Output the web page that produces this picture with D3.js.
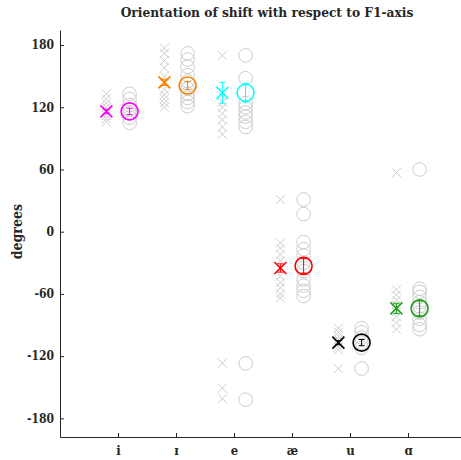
<!DOCTYPE html>
<html>
<head>
<meta charset="utf-8">
<script src="https://cdn.jsdelivr.net/npm/d3@7"></script>
<style>
  html, body { margin: 0; padding: 0; background: #fff; }
  svg text { font-family: "DejaVu Serif Condensed", "DejaVu Serif", serif; font-stretch: condensed; font-weight: bold; fill: #262626; }
</style>
</head>
<body>
<svg id="chart" width="461" height="460"></svg>
<script>
// Vowel categories and their colours
const categories = ["i", "ɪ", "e", "æ", "u", "ɑ"];
const colors = ["#ff00ff", "#ff8000", "#00ffff", "#ff0000", "#000000", "#1f9e1f"];

// Individual shift orientations (degrees), cross series
const crossVals = [
  [133, 128, 124, 120, 117, 115, 112, 109, 106],
  [177, 172, 165, 158, 150, 143, 137, 132, 128, 124, 120],
  [170, 131, 125, 120, 114, 108, 101, 94, -127, -151, -161],
  [31, -11, -16, -22, -28, -36, -43, -49, -54, -60, -64],
  [-93, -97, -101, -104, -108, -111, -114, -132],
  [57, -56, -61, -66, -71, -77, -82, -88, -94]
];
// Individual shift orientations (degrees), circle series
const circleVals = [
  [133, 128, 122, 118, 114, 110, 105],
  [172, 166, 159, 151, 145, 138, 133, 129, 125, 121],
  [170, 148, 124, 120, 115, 111, 106, 101, -127, -162],
  [31, 17, -10, -17, -23, -30, -38, -46, -52, -57, -62],
  [-93, -97, -102, -107, -112, -132],
  [60, -55, -58, -63, -68, -72, -78, -84, -90, -94]
];
// Mean orientation and standard error per category
const crossMean = [116, 144, 134, -35, -107, -74];
const crossErr = [2, 3, 10, 4, 2, 5];
const circleMean = [116, 141, 134, -33, -107, -74];
const circleErr = [3, 4, 9, 7, 3, 7];

const yTicks = [-180, -120, -60, 0, 60, 120, 180];

const svg = d3.select("#chart");
const mLeft = 60, mTop = 30, mBottom = 437, mRight = 466;

const x = d3.scaleLinear().domain([0, 7]).range([mLeft, mRight]);
const y = d3.scaleLinear().domain([-198, 194.5]).range([mBottom, mTop]);
const off = 0.2;
const grey = "#cdcdcd";

// Axes (ticks point inwards)
const yAxis = d3.axisLeft(y).tickValues(yTicks).tickSizeInner(-4).tickSizeOuter(0).tickPadding(6).tickFormat(d => String(d));
const gy = svg.append("g").attr("transform", `translate(${mLeft},0)`).call(yAxis);
gy.select(".domain").attr("stroke", "#262626");
gy.selectAll(".tick line").attr("stroke", "#262626");
gy.selectAll("text").style("font-size", "12px").attr("fill", "#262626");

const xAxis = d3.axisBottom(x).tickValues(d3.range(1, categories.length + 1)).tickSizeInner(-4).tickSizeOuter(0).tickPadding(9).tickFormat(d => categories[d - 1]);
const gx = svg.append("g").attr("transform", `translate(0,${mBottom})`).call(xAxis);
gx.select(".domain").attr("stroke", "#262626");
gx.selectAll(".tick line").attr("stroke", "#262626");
gx.selectAll("text").style("font-size", "13px").attr("fill", "#262626");

function crossPath(cx, cy, h) {
  return `M${cx - h},${cy - h}L${cx + h},${cy + h}M${cx - h},${cy + h}L${cx + h},${cy - h}`;
}

const plot = svg.append("g");

// Individual values
categories.forEach((c, i) => {
  const xc = x(i + 1 - off), xo = x(i + 1 + off);
  plot.append("g").selectAll("path").data(crossVals[i]).join("path")
    .attr("d", v => crossPath(xc, y(v), 4.5))
    .attr("fill", "none").attr("stroke", grey).attr("stroke-width", 1);
  plot.append("g").selectAll("circle").data(circleVals[i]).join("circle")
    .attr("cx", xo).attr("cy", v => y(v)).attr("r", 6.8)
    .attr("fill", "none").attr("stroke", grey).attr("stroke-width", 1);
});

// Means with error bars
function errBar(g, cx, m, e, col) {
  g.append("line").attr("x1", cx).attr("x2", cx).attr("y1", y(m - e)).attr("y2", y(m + e))
    .attr("stroke", col).attr("stroke-width", 1);
  [m - e, m + e].forEach(v => g.append("line").attr("x1", cx - 3).attr("x2", cx + 3)
    .attr("y1", y(v)).attr("y2", y(v)).attr("stroke", col).attr("stroke-width", 1));
}
categories.forEach((c, i) => {
  const g = plot.append("g");
  const xc = x(i + 1 - off), xo = x(i + 1 + off);
  errBar(g, xc, crossMean[i], crossErr[i], colors[i]);
  g.append("path").attr("d", crossPath(xc, y(crossMean[i]), 6))
    .attr("fill", "none").attr("stroke", colors[i]).attr("stroke-width", 1.6);
  errBar(g, xo, circleMean[i], circleErr[i], colors[i]);
  g.append("circle").attr("cx", xo).attr("cy", y(circleMean[i])).attr("r", 8.5)
    .attr("fill", "none").attr("stroke", colors[i]).attr("stroke-width", 1.6);
});

// Title and axis label
svg.append("text").attr("x", 267).attr("y", 17).attr("text-anchor", "middle")
  .style("font-size", "13.6px").text("Orientation of shift with respect to F1-axis");
svg.append("text").attr("transform", `translate(22,${y(0)}) rotate(-90)`).attr("text-anchor", "middle")
  .style("font-size", "14px").text("degrees");
</script>
</body>
</html>
